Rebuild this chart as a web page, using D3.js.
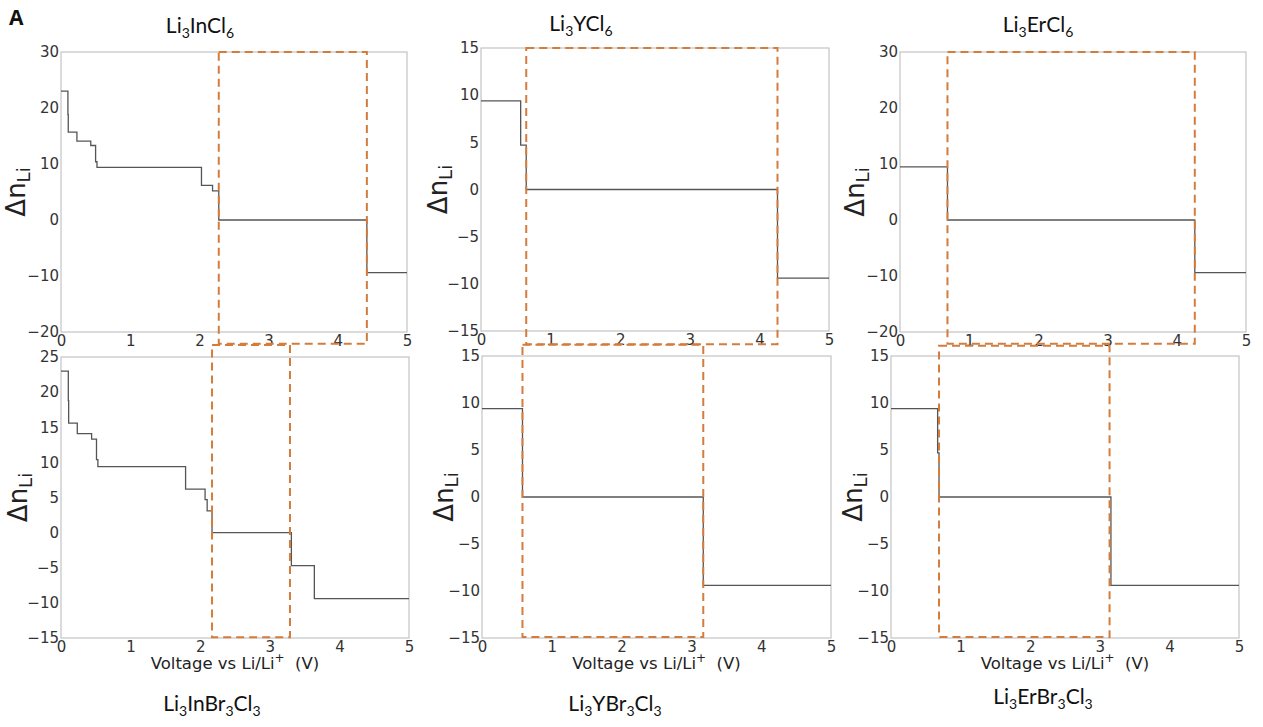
<!DOCTYPE html>
<html>
<head>
<meta charset="utf-8">
<script src="https://cdn.jsdelivr.net/npm/d3@7"></script>
<style>
  body { margin: 0; background: #fff; }
  svg { display: block; }
</style>
</head>
<body>
<svg id="chart" width="1263" height="727"></svg>
<script>
// one panel per material, top row then bottom row
const materials = ["Li3InCl6", "Li3YCl6", "Li3ErCl6", "Li3InBr3Cl3", "Li3YBr3Cl3", "Li3ErBr3Cl3"];

// step start voltages (V) and Δn_Li level held from that voltage on
const inClV = [0, 0.10, 0.105, 0.23, 0.43, 0.50, 0.52, 2.03, 2.19, 2.28, 4.42];
const inClN = [23, 18.8, 15.7, 14.1, 13.3, 10.4, 9.4, 6.2, 5.2, 0, -9.4];
const yClV = [0, 0.57, 0.65, 4.26];
const yClN = [9.4, 4.7, 0, -9.4];
const erClV = [0, 0.686, 4.26];
const erClN = [9.5, 0, -9.4];
const inBrV = [0, 0.105, 0.11, 0.234, 0.44, 0.51, 0.53, 1.79, 2.07, 2.10, 2.17, 3.31, 3.64];
const inBrN = [23, 18.8, 15.6, 14.1, 13.3, 10.4, 9.4, 6.2, 4.7, 3.1, 0, -4.7, -9.4];
const yBrV = [0, 0.58, 3.17];
const yBrN = [9.4, 0, -9.4];
const erBrV = [0, 0.67, 0.69, 3.16];
const erBrN = [9.4, 4.7, 0, -9.4];

const stepV = [inClV, yClV, erClV, inBrV, yBrV, erBrV];
const stepN = [inClN, yClN, erClN, inBrN, yBrN, erBrN];

// axes
const xDomain = [0, 5];
const xTicks = [0, 1, 2, 3, 4, 5];
const yDomains = [[-20, 30], [-15, 15], [-20, 30], [-15, 25], [-15, 15], [-15, 15]];
const yTicks = [
  [-20, -10, 0, 10, 20, 30],
  [-15, -10, -5, 0, 5, 10, 15],
  [-20, -10, 0, 10, 20, 30],
  [-15, -10, -5, 0, 5, 10, 15, 20, 25],
  [-15, -10, -5, 0, 5, 10, 15],
  [-15, -10, -5, 0, 5, 10, 15]
];

// stability windows (dashed boxes): voltage span and Δn span
const windowV = [[2.28, 4.42], [0.65, 4.26], [0.686, 4.26], [2.17, 3.29], [0.58, 3.17], [0.69, 3.14]];
const windowN = [[30, -22.1], [15, -16.4], [30, -22.1], [26.7, -14.9], [16.2, -14.9], [16.1, -14.9]];

// layout (pixels): plot frames [left, right, top, bottom]
const frames = [
  [61, 407, 52, 332],
  [481, 829, 48, 331],
  [900, 1246, 52, 332],
  [61, 409, 357, 638],
  [482, 831, 356, 638],
  [891, 1239, 356, 638]
];
const titlePos = [[200, 33], [581, 31], [1038, 32], [212, 711], [615, 711], [1043, 704]];
const ylabelDx = [-36, -34, -36, -34, -29, -29];

const svg = d3.select("#chart");
const lineColor = "#555";
const frameColor = "#c4c4c4";
const boxColor = "#d47c3c";
const tickFont = "'DejaVu Sans', sans-serif";
const fmt = d3.format("d");

// panel letter
svg.append("text")
  .attr("x", 9).attr("y", 25)
  .attr("font-family", "'Open Sans', sans-serif")
  .attr("font-weight", "bold")
  .attr("font-size", 21)
  .attr("fill", "#111")
  .text("A");

const boxLayer = [];

materials.forEach((name, i) => {
  const [l, r, t, b] = frames[i];
  const w = r - l, h = b - t;
  const x = d3.scaleLinear().domain(xDomain).range([0, w]);
  const y = d3.scaleLinear().domain(yDomains[i]).range([h, 0]);

  const g = svg.append("g").attr("transform", `translate(${l},${t})`);

  // frame
  g.append("rect")
    .attr("width", w).attr("height", h)
    .attr("fill", "none")
    .attr("stroke", frameColor)
    .attr("stroke-width", 1.2);

  // y axis
  const ya = g.append("g")
    .call(d3.axisLeft(y).tickValues(yTicks[i]).tickFormat(fmt).tickSize(0).tickPadding(2));
  ya.select(".domain").remove();
  ya.selectAll("text")
    .attr("font-family", tickFont).attr("font-size", 15).attr("fill", "#333");

  // x axis
  const xa = g.append("g")
    .attr("transform", `translate(0,${h})`)
    .call(d3.axisBottom(x).tickValues(xTicks).tickFormat(fmt).tickSize(0).tickPadding(3));
  xa.select(".domain").remove();
  xa.selectAll("text")
    .attr("font-family", tickFont).attr("font-size", 15).attr("fill", "#333");

  // step curve
  const V = stepV[i], N = stepN[i];
  const pts = V.map((v, k) => [v, N[k]]).concat([[xDomain[1], N[N.length - 1]]]);
  g.append("path")
    .attr("d", d3.line().x(d => x(d[0])).y(d => y(d[1])).curve(d3.curveStepAfter)(pts))
    .attr("fill", "none")
    .attr("stroke", lineColor)
    .attr("stroke-width", 1.3);

  boxLayer.push({ l, t, x0: x(windowV[i][0]), x1: x(windowV[i][1]), y0: y(windowN[i][0]), y1: y(windowN[i][1]) });

  // y label Δn_Li
  const yl = svg.append("text")
    .attr("transform", `translate(${l + ylabelDx[i]},${(t + b) / 2}) rotate(-90)`)
    .attr("text-anchor", "middle")
    .attr("font-family", tickFont)
    .attr("font-size", 26)
    .attr("fill", "#222");
  yl.append("tspan").text("Δn");
  yl.append("tspan").attr("font-size", 18).attr("dy", 5).text("Li");

  // x label on bottom row only
  if (i >= 3) {
    const xl = svg.append("text")
      .attr("x", (l + r) / 2).attr("y", b + 31)
      .attr("text-anchor", "middle")
      .attr("font-family", tickFont)
      .attr("font-size", 16.5)
      .attr("fill", "#222");
    xl.append("tspan").text("Voltage vs Li/Li");
    xl.append("tspan").attr("font-size", 12).attr("dy", -7).text("+");
    xl.append("tspan").attr("dy", 7).text("\u00a0\u00a0(V)");
  }

  // title with subscripted digits
  const tt = svg.append("text")
    .attr("x", titlePos[i][0]).attr("y", titlePos[i][1])
    .attr("text-anchor", "middle")
    .attr("font-family", "Lato, sans-serif")
    .attr("font-size", 21)
    .attr("fill", "#111");
  let low = false;
  name.match(/\d+|\D+/g).forEach(part => {
    const isNum = /\d/.test(part);
    const ts = tt.append("tspan").text(part);
    if (isNum) {
      ts.attr("font-size", 14).attr("dy", low ? 0 : 5);
      low = true;
    } else if (low) {
      ts.attr("dy", -5);
      low = false;
    }
  });
});

// dashed stability windows on top, they spill across neighbouring panels
boxLayer.forEach(bx => {
  svg.append("rect")
    .attr("x", bx.l + bx.x0).attr("y", bx.t + bx.y0)
    .attr("width", bx.x1 - bx.x0).attr("height", bx.y1 - bx.y0)
    .attr("fill", "none")
    .attr("stroke", boxColor)
    .attr("stroke-width", 2)
    .attr("stroke-dasharray", "8,5");
});
</script>
</body>
</html>
